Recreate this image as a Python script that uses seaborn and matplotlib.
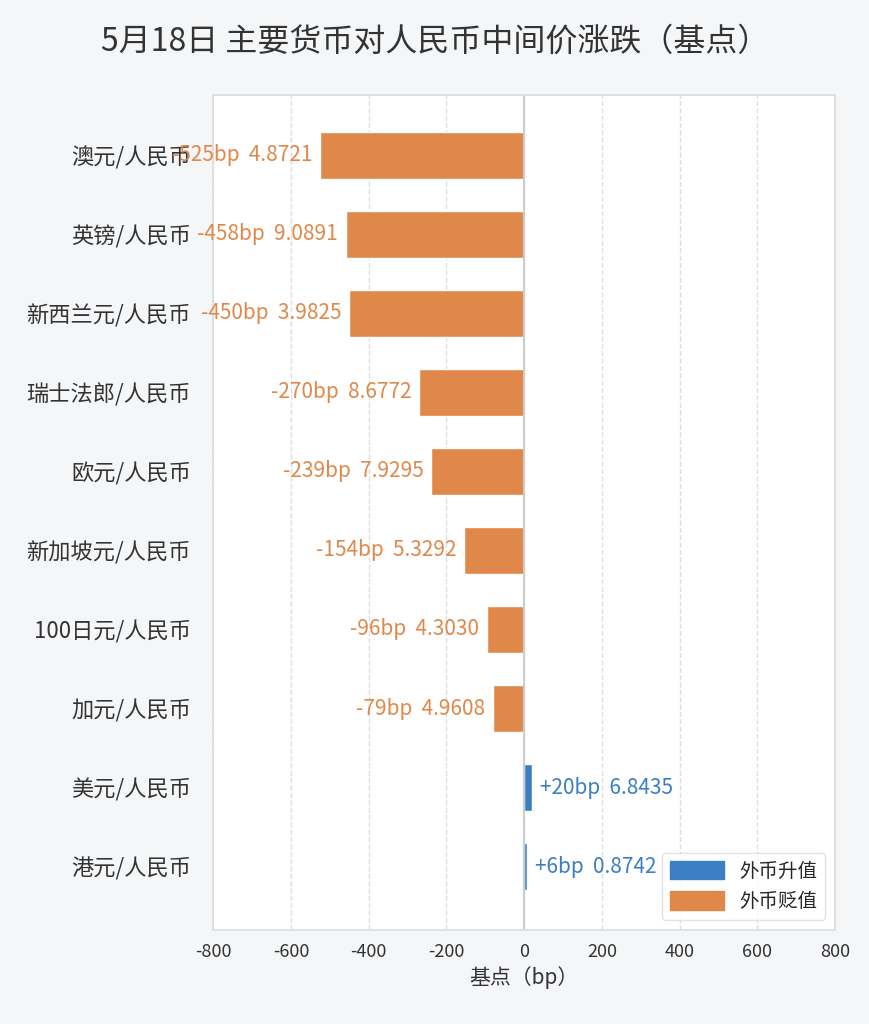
import numpy as np
import pandas as pd
import matplotlib
matplotlib.use("Agg")
import matplotlib.pyplot as plt
import seaborn as sns
from matplotlib.patches import Patch
from matplotlib.transforms import offset_copy

pairs = ["澳元/人民币", "英镑/人民币", "新西兰元/人民币", "瑞士法郎/人民币", "欧元/人民币",
         "新加坡元/人民币", "100日元/人民币", "加元/人民币", "美元/人民币", "港元/人民币"]
change_bp = [-525, -458, -450, -270, -239, -154, -96, -79, 20, 6]
rates = ["4.8721", "9.0891", "3.9825", "8.6772", "7.9295", "5.3292", "4.3030", "4.9608", "6.8435", "0.8742"]

up_color = "#3b7fc2"
down_color = "#e0884a"

sns.set_theme(style="whitegrid")
plt.rcParams["font.family"] = ["Noto Sans CJK SC", "DejaVu Sans"]
plt.rcParams["axes.unicode_minus"] = False

df = pd.DataFrame({"pair": pairs, "bp": change_bp})
df["dir"] = np.where(df["bp"] >= 0, "外币升值", "外币贬值")

fig = plt.figure(figsize=(8.7, 10.24), dpi=100, facecolor="#f5f6f8")
ax = fig.add_axes([0.245, 0.092, 0.715, 0.815])
ax.set_facecolor("white")

sns.barplot(data=df, x="bp", y="pair", hue="dir", palette={"外币升值": up_color, "外币贬值": down_color},
            dodge=False, width=0.6, ax=ax, legend=False, saturation=1)

for i, (v, r) in enumerate(zip(change_bp, rates)):
    col = up_color if v >= 0 else down_color
    txt = f"{v:+d}bp  {r}"
    if v >= 0:
        tr = offset_copy(ax.transData, fig=fig, x=8, y=0, units="dots")
        ax.text(v, i, txt, transform=tr, ha="left", va="center", color=col, fontsize=15, zorder=3)
    else:
        tr = offset_copy(ax.transData, fig=fig, x=-8, y=0, units="dots")
        ax.text(v, i, txt, transform=tr, ha="right", va="center", color=col, fontsize=15, zorder=3)

ax.axvline(0, color="#cccccc", lw=1.5, zorder=1)
ax.set_xlim(-800, 800)
ax.set_ylim(9.8, -0.76)
ax.set_xticks(range(-800, 801, 200))
ax.grid(axis="x", ls="--", color="#dddddd")
ax.grid(axis="y", visible=False)
ax.set_ylabel("")
ax.set_xlabel("基点（bp）", fontsize=15, color="#333333")
ax.tick_params(axis="y", labelsize=16, labelcolor="#333333", pad=10)
ax.tick_params(axis="x", labelsize=13, labelcolor="#333333")
for s in ax.spines.values():
    s.set_color("#dddddd")

handles = [Patch(color=up_color, label="外币升值"), Patch(color=down_color, label="外币贬值")]
leg = ax.legend(handles=handles, loc="lower right", fontsize=14, handlelength=2.8, handleheight=1.1,
                frameon=True, facecolor="white", edgecolor="#dddddd")
leg.set_zorder(10)

fig.suptitle("5月18日 主要货币对人民币中间价涨跌（基点）", fontsize=23, color="#333333", y=0.975)
fig.savefig("out.png", dpi=100, facecolor=fig.get_facecolor())
